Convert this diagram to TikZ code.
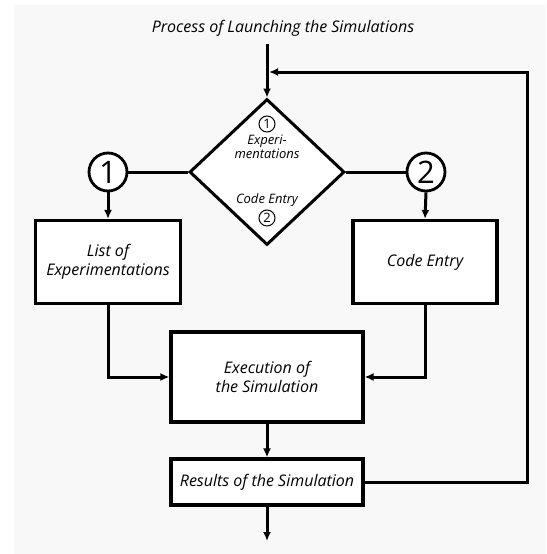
\documentclass[tikz,border=0pt]{standalone}
\usepackage{fontspec}
\setmainfont{Open Sans}
\usetikzlibrary{shapes.geometric,arrows.meta}
\definecolor{bgc}{HTML}{F8F8F8}
\tikzset{
  box/.style={draw=black, line width=3.2pt, fill=white, align=center, inner sep=0pt, font=\fontsize{16}{19}\selectfont\itshape},
  bignum/.style={draw=black, circle, line width=2.8pt, fill=white, minimum size=38pt, inner sep=0pt, font=\fontsize{31}{31}\selectfont},
  smallnum/.style={draw=black, circle, line width=1pt, minimum size=16pt, inner sep=0pt, font=\fontsize{13}{13}\selectfont},
  dtext/.style={align=center, inner sep=0pt, font=\fontsize{13}{12}\selectfont\itshape},
  conn/.style={line width=3pt},
  arr/.style={line width=3pt, -{Latex[length=9pt,width=8pt]}},
}
\begin{document}
\begin{tikzpicture}[x=1pt,y=-1pt]
\useasboundingbox (0,0) rectangle (546,554);
\fill[bgc] (14,5) rectangle (546,554);

\node[font=\fontsize{16}{19}\selectfont\itshape] (title) at (283,28) {Process of Launching the Simulations};
\coordinate (top) at (267,44);

\node[diamond, draw=black, line width=3pt, fill=white, minimum width=155pt, minimum height=146pt, inner sep=0pt] (d) at (267,172) {};
\node[smallnum] (s1) at (267,124) {1};
\node[dtext] (dt1) at (267,147) {Experi-\\mentations};
\node[dtext] (dt2) at (267,200) {Code Entry};
\node[smallnum] (s2) at (267,218) {2};

\node[bignum] (c1) at (108,172) {1};
\node[bignum] (c2) at (426,172) {2};

\node[box, minimum width=145pt, minimum height=83pt] (list) at (108,262) {List of\\Experimentations};
\node[box, minimum width=144pt, minimum height=83pt] (code) at (425,262) {Code Entry};
\node[box, minimum width=192pt, minimum height=90pt] (exec) at (267,377) {Execution of\\the Simulation};
\node[box, minimum width=192pt, minimum height=46pt] (res) at (267,482) {Results of the Simulation};

\coordinate (fbR) at (527,482);
\coordinate (fbT) at (527,72);
\coordinate (fbJ) at (269,72);
\coordinate (out) at (267,541);

\draw[arr] (top) -- (d.north);
\draw[conn] (d.west) -- (c1.east);
\draw[conn] (d.east) -- (c2.west);
\draw[arr] (c1.south) -- (list.north);
\draw[arr] (c2.south) -- (code.north);
\draw[arr] (list.south) |- (exec.west);
\draw[arr] (code.south) |- (exec.east);
\draw[arr] (exec.south) -- (res.north);
\draw[arr] (res.south) -- (out);
\draw[arr] (res.east) -- (fbR) -- (fbT) -- (fbJ);
\end{tikzpicture}
\end{document}
